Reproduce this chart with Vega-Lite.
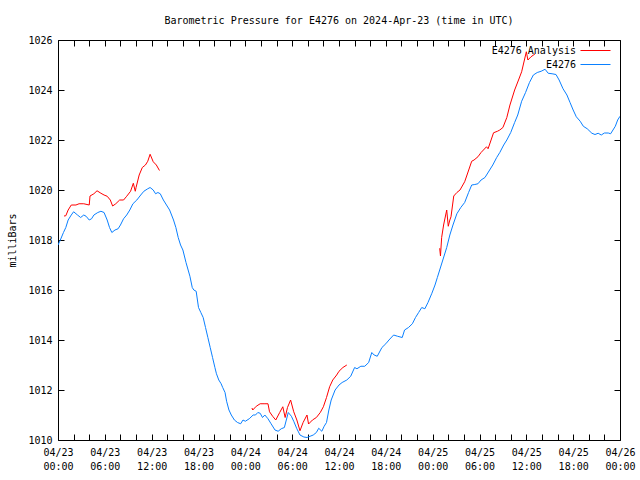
{
  "$schema": "https://vega.github.io/schema/vega-lite/v6.json",
  "width": 562,
  "height": 400,
  "autosize": {"type": "none"},
  "padding": {"left": 58, "top": 40, "right": 20, "bottom": 40},
  "background": "white",
  "title": {
    "text": "Barometric Pressure for E4276 on 2024-Apr-23 (time in UTC)",
    "font": "DejaVu Sans Mono",
    "fontSize": 10,
    "fontWeight": "normal",
    "color": "black",
    "offset": 9,
    "anchor": "middle"
  },
  "config": {
    "view": {"stroke": "black", "strokeWidth": 1},
    "axis": {
      "domain": false,
      "grid": false,
      "tickColor": "black",
      "tickWidth": 1,
      "labelColor": "black",
      "labelFont": "DejaVu Sans Mono",
      "labelFontSize": 10,
      "titleFont": "DejaVu Sans Mono",
      "titleFontSize": 10,
      "titleFontWeight": "normal",
      "titleColor": "black"
    },
    "legend": {
      "orient": "none",
      "legendX": 532,
      "legendY": 5,
      "padding": 0,
      "symbolType": "M-3,0H3",
      "symbolSize": 100,
      "symbolStrokeWidth": 1,
      "labelAlign": "right",
      "labelOffset": -25,
      "labelFont": "DejaVu Sans Mono",
      "labelFontSize": 10,
      "labelColor": "black",
      "labelLimit": 300,
      "rowPadding": 3,
      "title": null
    }
  },
  "data": {
    "values": [
      {"t": 0.77, "p": 1018.96, "s": "E4276 Analysis", "g": "a1"},
      {"t": 1.0, "p": 1018.97, "s": "E4276 Analysis", "g": "a1"},
      {"t": 1.3, "p": 1019.2, "s": "E4276 Analysis", "g": "a1"},
      {"t": 1.7, "p": 1019.4, "s": "E4276 Analysis", "g": "a1"},
      {"t": 2.3, "p": 1019.4, "s": "E4276 Analysis", "g": "a1"},
      {"t": 2.7, "p": 1019.45, "s": "E4276 Analysis", "g": "a1"},
      {"t": 3.3, "p": 1019.45, "s": "E4276 Analysis", "g": "a1"},
      {"t": 4.0, "p": 1019.4, "s": "E4276 Analysis", "g": "a1"},
      {"t": 4.1, "p": 1019.76, "s": "E4276 Analysis", "g": "a1"},
      {"t": 4.6, "p": 1019.85, "s": "E4276 Analysis", "g": "a1"},
      {"t": 5.0, "p": 1019.97, "s": "E4276 Analysis", "g": "a1"},
      {"t": 5.5, "p": 1019.87, "s": "E4276 Analysis", "g": "a1"},
      {"t": 5.9, "p": 1019.8, "s": "E4276 Analysis", "g": "a1"},
      {"t": 6.3, "p": 1019.75, "s": "E4276 Analysis", "g": "a1"},
      {"t": 6.7, "p": 1019.6, "s": "E4276 Analysis", "g": "a1"},
      {"t": 7.0, "p": 1019.36, "s": "E4276 Analysis", "g": "a1"},
      {"t": 7.4, "p": 1019.45, "s": "E4276 Analysis", "g": "a1"},
      {"t": 7.9, "p": 1019.6, "s": "E4276 Analysis", "g": "a1"},
      {"t": 8.4, "p": 1019.6, "s": "E4276 Analysis", "g": "a1"},
      {"t": 8.8, "p": 1019.75, "s": "E4276 Analysis", "g": "a1"},
      {"t": 9.3, "p": 1019.95, "s": "E4276 Analysis", "g": "a1"},
      {"t": 9.65, "p": 1020.27, "s": "E4276 Analysis", "g": "a1"},
      {"t": 9.9, "p": 1019.95, "s": "E4276 Analysis", "g": "a1"},
      {"t": 10.0, "p": 1020.1, "s": "E4276 Analysis", "g": "a1"},
      {"t": 10.4, "p": 1020.6, "s": "E4276 Analysis", "g": "a1"},
      {"t": 10.8, "p": 1020.9, "s": "E4276 Analysis", "g": "a1"},
      {"t": 11.2, "p": 1021.0, "s": "E4276 Analysis", "g": "a1"},
      {"t": 11.5, "p": 1021.15, "s": "E4276 Analysis", "g": "a1"},
      {"t": 11.8, "p": 1021.43, "s": "E4276 Analysis", "g": "a1"},
      {"t": 12.2, "p": 1021.13, "s": "E4276 Analysis", "g": "a1"},
      {"t": 12.6, "p": 1021.0, "s": "E4276 Analysis", "g": "a1"},
      {"t": 13.0, "p": 1020.78, "s": "E4276 Analysis", "g": "a1"},
      {"t": 24.85, "p": 1011.28, "s": "E4276 Analysis", "g": "a2"},
      {"t": 24.95, "p": 1011.2, "s": "E4276 Analysis", "g": "a2"},
      {"t": 25.4, "p": 1011.35, "s": "E4276 Analysis", "g": "a2"},
      {"t": 25.9, "p": 1011.45, "s": "E4276 Analysis", "g": "a2"},
      {"t": 26.4, "p": 1011.45, "s": "E4276 Analysis", "g": "a2"},
      {"t": 26.9, "p": 1011.45, "s": "E4276 Analysis", "g": "a2"},
      {"t": 27.1, "p": 1011.13, "s": "E4276 Analysis", "g": "a2"},
      {"t": 27.5, "p": 1010.95, "s": "E4276 Analysis", "g": "a2"},
      {"t": 27.9, "p": 1010.8, "s": "E4276 Analysis", "g": "a2"},
      {"t": 28.4, "p": 1011.1, "s": "E4276 Analysis", "g": "a2"},
      {"t": 28.8, "p": 1011.33, "s": "E4276 Analysis", "g": "a2"},
      {"t": 29.1, "p": 1010.9, "s": "E4276 Analysis", "g": "a2"},
      {"t": 29.4, "p": 1011.3, "s": "E4276 Analysis", "g": "a2"},
      {"t": 29.8, "p": 1011.6, "s": "E4276 Analysis", "g": "a2"},
      {"t": 30.2, "p": 1011.13, "s": "E4276 Analysis", "g": "a2"},
      {"t": 30.6, "p": 1010.8, "s": "E4276 Analysis", "g": "a2"},
      {"t": 31.0, "p": 1010.37, "s": "E4276 Analysis", "g": "a2"},
      {"t": 31.4, "p": 1010.7, "s": "E4276 Analysis", "g": "a2"},
      {"t": 31.9, "p": 1011.0, "s": "E4276 Analysis", "g": "a2"},
      {"t": 32.1, "p": 1010.64, "s": "E4276 Analysis", "g": "a2"},
      {"t": 32.6, "p": 1010.8, "s": "E4276 Analysis", "g": "a2"},
      {"t": 33.1, "p": 1010.9, "s": "E4276 Analysis", "g": "a2"},
      {"t": 33.6, "p": 1011.1, "s": "E4276 Analysis", "g": "a2"},
      {"t": 34.0, "p": 1011.33, "s": "E4276 Analysis", "g": "a2"},
      {"t": 34.4, "p": 1011.7, "s": "E4276 Analysis", "g": "a2"},
      {"t": 34.8, "p": 1012.13, "s": "E4276 Analysis", "g": "a2"},
      {"t": 35.2, "p": 1012.4, "s": "E4276 Analysis", "g": "a2"},
      {"t": 35.7, "p": 1012.6, "s": "E4276 Analysis", "g": "a2"},
      {"t": 36.0, "p": 1012.75, "s": "E4276 Analysis", "g": "a2"},
      {"t": 36.5, "p": 1012.9, "s": "E4276 Analysis", "g": "a2"},
      {"t": 37.0, "p": 1013.0, "s": "E4276 Analysis", "g": "a2"},
      {"t": 48.9, "p": 1017.67, "s": "E4276 Analysis", "g": "a3"},
      {"t": 49.0, "p": 1017.36, "s": "E4276 Analysis", "g": "a3"},
      {"t": 49.15, "p": 1018.1, "s": "E4276 Analysis", "g": "a3"},
      {"t": 49.4, "p": 1018.6, "s": "E4276 Analysis", "g": "a3"},
      {"t": 49.8, "p": 1019.2, "s": "E4276 Analysis", "g": "a3"},
      {"t": 50.0, "p": 1018.55, "s": "E4276 Analysis", "g": "a3"},
      {"t": 50.2, "p": 1018.8, "s": "E4276 Analysis", "g": "a3"},
      {"t": 50.35, "p": 1018.93, "s": "E4276 Analysis", "g": "a3"},
      {"t": 50.7, "p": 1019.76, "s": "E4276 Analysis", "g": "a3"},
      {"t": 51.1, "p": 1019.9, "s": "E4276 Analysis", "g": "a3"},
      {"t": 51.5, "p": 1020.0, "s": "E4276 Analysis", "g": "a3"},
      {"t": 52.1, "p": 1020.33, "s": "E4276 Analysis", "g": "a3"},
      {"t": 52.4, "p": 1020.6, "s": "E4276 Analysis", "g": "a3"},
      {"t": 53.0, "p": 1021.15, "s": "E4276 Analysis", "g": "a3"},
      {"t": 53.3, "p": 1021.2, "s": "E4276 Analysis", "g": "a3"},
      {"t": 53.8, "p": 1021.33, "s": "E4276 Analysis", "g": "a3"},
      {"t": 54.2, "p": 1021.5, "s": "E4276 Analysis", "g": "a3"},
      {"t": 54.9, "p": 1021.73, "s": "E4276 Analysis", "g": "a3"},
      {"t": 55.1, "p": 1021.65, "s": "E4276 Analysis", "g": "a3"},
      {"t": 55.8, "p": 1022.29, "s": "E4276 Analysis", "g": "a3"},
      {"t": 56.3, "p": 1022.35, "s": "E4276 Analysis", "g": "a3"},
      {"t": 56.6, "p": 1022.4, "s": "E4276 Analysis", "g": "a3"},
      {"t": 57.0, "p": 1022.5, "s": "E4276 Analysis", "g": "a3"},
      {"t": 57.5, "p": 1022.9, "s": "E4276 Analysis", "g": "a3"},
      {"t": 57.9, "p": 1023.4, "s": "E4276 Analysis", "g": "a3"},
      {"t": 58.5, "p": 1024.0, "s": "E4276 Analysis", "g": "a3"},
      {"t": 59.0, "p": 1024.4, "s": "E4276 Analysis", "g": "a3"},
      {"t": 59.4, "p": 1024.73, "s": "E4276 Analysis", "g": "a3"},
      {"t": 60.0, "p": 1025.53, "s": "E4276 Analysis", "g": "a3"},
      {"t": 60.2, "p": 1025.2, "s": "E4276 Analysis", "g": "a3"},
      {"t": 60.6, "p": 1025.33, "s": "E4276 Analysis", "g": "a3"},
      {"t": 61.1, "p": 1025.44, "s": "E4276 Analysis", "g": "a3"},
      {"t": 0.0, "p": 1017.8, "s": "E4276", "g": "b"},
      {"t": 0.3, "p": 1018.0, "s": "E4276", "g": "b"},
      {"t": 0.7, "p": 1018.3, "s": "E4276", "g": "b"},
      {"t": 1.0, "p": 1018.5, "s": "E4276", "g": "b"},
      {"t": 1.3, "p": 1018.8, "s": "E4276", "g": "b"},
      {"t": 1.7, "p": 1019.0, "s": "E4276", "g": "b"},
      {"t": 2.0, "p": 1019.13, "s": "E4276", "g": "b"},
      {"t": 2.5, "p": 1019.0, "s": "E4276", "g": "b"},
      {"t": 2.9, "p": 1018.9, "s": "E4276", "g": "b"},
      {"t": 3.3, "p": 1019.0, "s": "E4276", "g": "b"},
      {"t": 3.6, "p": 1018.95, "s": "E4276", "g": "b"},
      {"t": 4.0, "p": 1018.8, "s": "E4276", "g": "b"},
      {"t": 4.3, "p": 1018.85, "s": "E4276", "g": "b"},
      {"t": 4.6, "p": 1019.0, "s": "E4276", "g": "b"},
      {"t": 5.1, "p": 1019.1, "s": "E4276", "g": "b"},
      {"t": 5.5, "p": 1019.15, "s": "E4276", "g": "b"},
      {"t": 5.9, "p": 1019.1, "s": "E4276", "g": "b"},
      {"t": 6.3, "p": 1018.8, "s": "E4276", "g": "b"},
      {"t": 6.6, "p": 1018.5, "s": "E4276", "g": "b"},
      {"t": 6.9, "p": 1018.3, "s": "E4276", "g": "b"},
      {"t": 7.3, "p": 1018.4, "s": "E4276", "g": "b"},
      {"t": 7.7, "p": 1018.45, "s": "E4276", "g": "b"},
      {"t": 8.0, "p": 1018.6, "s": "E4276", "g": "b"},
      {"t": 8.4, "p": 1018.85, "s": "E4276", "g": "b"},
      {"t": 8.8, "p": 1019.0, "s": "E4276", "g": "b"},
      {"t": 9.2, "p": 1019.2, "s": "E4276", "g": "b"},
      {"t": 9.6, "p": 1019.45, "s": "E4276", "g": "b"},
      {"t": 10.1, "p": 1019.6, "s": "E4276", "g": "b"},
      {"t": 10.6, "p": 1019.8, "s": "E4276", "g": "b"},
      {"t": 11.0, "p": 1019.95, "s": "E4276", "g": "b"},
      {"t": 11.5, "p": 1020.05, "s": "E4276", "g": "b"},
      {"t": 11.8, "p": 1020.1, "s": "E4276", "g": "b"},
      {"t": 12.2, "p": 1020.0, "s": "E4276", "g": "b"},
      {"t": 12.5, "p": 1019.85, "s": "E4276", "g": "b"},
      {"t": 12.8, "p": 1019.9, "s": "E4276", "g": "b"},
      {"t": 13.1, "p": 1019.85, "s": "E4276", "g": "b"},
      {"t": 13.5, "p": 1019.6, "s": "E4276", "g": "b"},
      {"t": 13.9, "p": 1019.4, "s": "E4276", "g": "b"},
      {"t": 14.3, "p": 1019.2, "s": "E4276", "g": "b"},
      {"t": 14.8, "p": 1018.8, "s": "E4276", "g": "b"},
      {"t": 15.1, "p": 1018.5, "s": "E4276", "g": "b"},
      {"t": 15.4, "p": 1018.1, "s": "E4276", "g": "b"},
      {"t": 15.7, "p": 1017.8, "s": "E4276", "g": "b"},
      {"t": 16.0, "p": 1017.6, "s": "E4276", "g": "b"},
      {"t": 16.4, "p": 1017.1, "s": "E4276", "g": "b"},
      {"t": 16.9, "p": 1016.55, "s": "E4276", "g": "b"},
      {"t": 17.2, "p": 1016.1, "s": "E4276", "g": "b"},
      {"t": 17.4, "p": 1016.0, "s": "E4276", "g": "b"},
      {"t": 17.7, "p": 1015.95, "s": "E4276", "g": "b"},
      {"t": 18.0, "p": 1015.3, "s": "E4276", "g": "b"},
      {"t": 18.3, "p": 1015.1, "s": "E4276", "g": "b"},
      {"t": 18.6, "p": 1014.9, "s": "E4276", "g": "b"},
      {"t": 18.9, "p": 1014.5, "s": "E4276", "g": "b"},
      {"t": 19.2, "p": 1014.1, "s": "E4276", "g": "b"},
      {"t": 19.5, "p": 1013.7, "s": "E4276", "g": "b"},
      {"t": 19.8, "p": 1013.3, "s": "E4276", "g": "b"},
      {"t": 20.1, "p": 1012.9, "s": "E4276", "g": "b"},
      {"t": 20.3, "p": 1012.65, "s": "E4276", "g": "b"},
      {"t": 20.6, "p": 1012.4, "s": "E4276", "g": "b"},
      {"t": 20.9, "p": 1012.25, "s": "E4276", "g": "b"},
      {"t": 21.1, "p": 1012.1, "s": "E4276", "g": "b"},
      {"t": 21.4, "p": 1011.9, "s": "E4276", "g": "b"},
      {"t": 21.6, "p": 1011.55, "s": "E4276", "g": "b"},
      {"t": 21.9, "p": 1011.2, "s": "E4276", "g": "b"},
      {"t": 22.2, "p": 1011.0, "s": "E4276", "g": "b"},
      {"t": 22.6, "p": 1010.8, "s": "E4276", "g": "b"},
      {"t": 23.0, "p": 1010.7, "s": "E4276", "g": "b"},
      {"t": 23.4, "p": 1010.65, "s": "E4276", "g": "b"},
      {"t": 23.7, "p": 1010.8, "s": "E4276", "g": "b"},
      {"t": 24.0, "p": 1010.75, "s": "E4276", "g": "b"},
      {"t": 24.5, "p": 1010.85, "s": "E4276", "g": "b"},
      {"t": 25.0, "p": 1011.0, "s": "E4276", "g": "b"},
      {"t": 25.3, "p": 1011.0, "s": "E4276", "g": "b"},
      {"t": 25.6, "p": 1011.1, "s": "E4276", "g": "b"},
      {"t": 25.9, "p": 1011.07, "s": "E4276", "g": "b"},
      {"t": 26.2, "p": 1010.9, "s": "E4276", "g": "b"},
      {"t": 26.5, "p": 1011.0, "s": "E4276", "g": "b"},
      {"t": 26.9, "p": 1010.85, "s": "E4276", "g": "b"},
      {"t": 27.3, "p": 1010.65, "s": "E4276", "g": "b"},
      {"t": 27.8, "p": 1010.4, "s": "E4276", "g": "b"},
      {"t": 28.2, "p": 1010.35, "s": "E4276", "g": "b"},
      {"t": 28.6, "p": 1010.45, "s": "E4276", "g": "b"},
      {"t": 29.0, "p": 1010.5, "s": "E4276", "g": "b"},
      {"t": 29.5, "p": 1011.1, "s": "E4276", "g": "b"},
      {"t": 29.9, "p": 1010.95, "s": "E4276", "g": "b"},
      {"t": 30.2, "p": 1010.75, "s": "E4276", "g": "b"},
      {"t": 30.6, "p": 1010.45, "s": "E4276", "g": "b"},
      {"t": 31.0, "p": 1010.2, "s": "E4276", "g": "b"},
      {"t": 31.5, "p": 1010.12, "s": "E4276", "g": "b"},
      {"t": 31.9, "p": 1010.1, "s": "E4276", "g": "b"},
      {"t": 32.3, "p": 1010.15, "s": "E4276", "g": "b"},
      {"t": 32.7, "p": 1010.2, "s": "E4276", "g": "b"},
      {"t": 33.1, "p": 1010.3, "s": "E4276", "g": "b"},
      {"t": 33.4, "p": 1010.47, "s": "E4276", "g": "b"},
      {"t": 33.8, "p": 1010.35, "s": "E4276", "g": "b"},
      {"t": 34.1, "p": 1010.55, "s": "E4276", "g": "b"},
      {"t": 34.4, "p": 1010.7, "s": "E4276", "g": "b"},
      {"t": 34.7, "p": 1011.2, "s": "E4276", "g": "b"},
      {"t": 35.0, "p": 1011.6, "s": "E4276", "g": "b"},
      {"t": 35.5, "p": 1012.0, "s": "E4276", "g": "b"},
      {"t": 36.0, "p": 1012.2, "s": "E4276", "g": "b"},
      {"t": 36.4, "p": 1012.3, "s": "E4276", "g": "b"},
      {"t": 37.0, "p": 1012.4, "s": "E4276", "g": "b"},
      {"t": 37.5, "p": 1012.55, "s": "E4276", "g": "b"},
      {"t": 38.0, "p": 1012.9, "s": "E4276", "g": "b"},
      {"t": 38.3, "p": 1012.85, "s": "E4276", "g": "b"},
      {"t": 38.8, "p": 1012.95, "s": "E4276", "g": "b"},
      {"t": 39.3, "p": 1012.95, "s": "E4276", "g": "b"},
      {"t": 39.8, "p": 1013.1, "s": "E4276", "g": "b"},
      {"t": 40.2, "p": 1013.5, "s": "E4276", "g": "b"},
      {"t": 40.5, "p": 1013.4, "s": "E4276", "g": "b"},
      {"t": 40.9, "p": 1013.35, "s": "E4276", "g": "b"},
      {"t": 41.5, "p": 1013.7, "s": "E4276", "g": "b"},
      {"t": 42.0, "p": 1013.85, "s": "E4276", "g": "b"},
      {"t": 42.4, "p": 1014.0, "s": "E4276", "g": "b"},
      {"t": 43.0, "p": 1014.2, "s": "E4276", "g": "b"},
      {"t": 43.5, "p": 1014.15, "s": "E4276", "g": "b"},
      {"t": 44.1, "p": 1014.1, "s": "E4276", "g": "b"},
      {"t": 44.4, "p": 1014.4, "s": "E4276", "g": "b"},
      {"t": 44.9, "p": 1014.5, "s": "E4276", "g": "b"},
      {"t": 45.4, "p": 1014.65, "s": "E4276", "g": "b"},
      {"t": 45.8, "p": 1014.9, "s": "E4276", "g": "b"},
      {"t": 46.2, "p": 1015.1, "s": "E4276", "g": "b"},
      {"t": 46.6, "p": 1015.3, "s": "E4276", "g": "b"},
      {"t": 47.0, "p": 1015.25, "s": "E4276", "g": "b"},
      {"t": 47.4, "p": 1015.5, "s": "E4276", "g": "b"},
      {"t": 47.9, "p": 1015.87, "s": "E4276", "g": "b"},
      {"t": 48.3, "p": 1016.2, "s": "E4276", "g": "b"},
      {"t": 48.6, "p": 1016.5, "s": "E4276", "g": "b"},
      {"t": 48.9, "p": 1016.8, "s": "E4276", "g": "b"},
      {"t": 49.3, "p": 1017.2, "s": "E4276", "g": "b"},
      {"t": 49.8, "p": 1017.7, "s": "E4276", "g": "b"},
      {"t": 50.2, "p": 1018.2, "s": "E4276", "g": "b"},
      {"t": 50.6, "p": 1018.6, "s": "E4276", "g": "b"},
      {"t": 51.1, "p": 1019.05, "s": "E4276", "g": "b"},
      {"t": 51.6, "p": 1019.3, "s": "E4276", "g": "b"},
      {"t": 52.1, "p": 1019.5, "s": "E4276", "g": "b"},
      {"t": 52.6, "p": 1019.9, "s": "E4276", "g": "b"},
      {"t": 53.0, "p": 1020.2, "s": "E4276", "g": "b"},
      {"t": 53.4, "p": 1020.22, "s": "E4276", "g": "b"},
      {"t": 53.8, "p": 1020.25, "s": "E4276", "g": "b"},
      {"t": 54.2, "p": 1020.4, "s": "E4276", "g": "b"},
      {"t": 54.7, "p": 1020.5, "s": "E4276", "g": "b"},
      {"t": 55.3, "p": 1020.8, "s": "E4276", "g": "b"},
      {"t": 55.7, "p": 1021.0, "s": "E4276", "g": "b"},
      {"t": 56.2, "p": 1021.3, "s": "E4276", "g": "b"},
      {"t": 56.6, "p": 1021.5, "s": "E4276", "g": "b"},
      {"t": 57.1, "p": 1021.8, "s": "E4276", "g": "b"},
      {"t": 57.5, "p": 1022.0, "s": "E4276", "g": "b"},
      {"t": 58.0, "p": 1022.3, "s": "E4276", "g": "b"},
      {"t": 58.5, "p": 1022.7, "s": "E4276", "g": "b"},
      {"t": 58.9, "p": 1023.0, "s": "E4276", "g": "b"},
      {"t": 59.4, "p": 1023.55, "s": "E4276", "g": "b"},
      {"t": 59.9, "p": 1023.9, "s": "E4276", "g": "b"},
      {"t": 60.4, "p": 1024.3, "s": "E4276", "g": "b"},
      {"t": 60.9, "p": 1024.6, "s": "E4276", "g": "b"},
      {"t": 61.4, "p": 1024.7, "s": "E4276", "g": "b"},
      {"t": 61.9, "p": 1024.75, "s": "E4276", "g": "b"},
      {"t": 62.4, "p": 1024.83, "s": "E4276", "g": "b"},
      {"t": 62.8, "p": 1024.67, "s": "E4276", "g": "b"},
      {"t": 63.3, "p": 1024.65, "s": "E4276", "g": "b"},
      {"t": 63.8, "p": 1024.62, "s": "E4276", "g": "b"},
      {"t": 64.2, "p": 1024.4, "s": "E4276", "g": "b"},
      {"t": 64.7, "p": 1024.05, "s": "E4276", "g": "b"},
      {"t": 65.2, "p": 1023.8, "s": "E4276", "g": "b"},
      {"t": 65.6, "p": 1023.5, "s": "E4276", "g": "b"},
      {"t": 66.0, "p": 1023.2, "s": "E4276", "g": "b"},
      {"t": 66.4, "p": 1022.93, "s": "E4276", "g": "b"},
      {"t": 66.9, "p": 1022.75, "s": "E4276", "g": "b"},
      {"t": 67.3, "p": 1022.55, "s": "E4276", "g": "b"},
      {"t": 67.8, "p": 1022.45, "s": "E4276", "g": "b"},
      {"t": 68.4, "p": 1022.27, "s": "E4276", "g": "b"},
      {"t": 68.8, "p": 1022.22, "s": "E4276", "g": "b"},
      {"t": 69.2, "p": 1022.27, "s": "E4276", "g": "b"},
      {"t": 69.6, "p": 1022.2, "s": "E4276", "g": "b"},
      {"t": 70.0, "p": 1022.28, "s": "E4276", "g": "b"},
      {"t": 70.5, "p": 1022.28, "s": "E4276", "g": "b"},
      {"t": 70.8, "p": 1022.25, "s": "E4276", "g": "b"},
      {"t": 71.1, "p": 1022.4, "s": "E4276", "g": "b"},
      {"t": 71.4, "p": 1022.55, "s": "E4276", "g": "b"},
      {"t": 71.7, "p": 1022.8, "s": "E4276", "g": "b"},
      {"t": 72.0, "p": 1022.95, "s": "E4276", "g": "b"}
    ]
  },
  "layer": [
    {
      "mark": {"type": "line", "strokeWidth": 1, "clip": true},
      "encoding": {
        "x": {
          "field": "t",
          "type": "quantitative",
          "scale": {"domain": [0, 72], "nice": false, "zero": false},
          "axis": {
            "orient": "bottom",
            "title": null,
            "values": [0, 2, 4, 6, 8, 10, 12, 14, 16, 18, 20, 22, 24, 26, 28, 30, 32, 34, 36, 38, 40, 42, 44, 46, 48, 50, 52, 54, 56, 58, 60, 62, 64, 66, 68, 70, 72],
            "tickSize": -6,
            "labelPadding": 13,
            "labelLineHeight": 14,
            "labelOverlap": false,
            "labelFlush": false,
            "labelBaseline": "top",
            "labelExpr": "datum.value % 6 == 0 ? ['04/' + (23 + floor(datum.value / 24)), ((datum.value % 24) < 10 ? '0' : '') + (datum.value % 24) + ':00'] : ''"
          }
        },
        "y": {
          "field": "p",
          "type": "quantitative",
          "scale": {"domain": [1010, 1026], "nice": false, "zero": false},
          "axis": {
            "orient": "left",
            "title": "milliBars",
            "format": "d",
            "values": [1010, 1012, 1014, 1016, 1018, 1020, 1022, 1024, 1026],
            "tickSize": -6,
            "labelPadding": 12,
            "titlePadding": 10,
            "labelFlush": false
          }
        },
        "color": {
          "field": "s",
          "type": "nominal",
          "scale": {"domain": ["E4276 Analysis", "E4276"], "range": ["#ff0000", "#0a80ff"]},
          "legend": {}
        },
        "detail": {"field": "g", "type": "nominal"}
      }
    },
    {
      "mark": {"type": "line", "opacity": 0},
      "encoding": {
        "x": {
          "field": "t",
          "type": "quantitative",
          "axis": {
            "orient": "top",
            "title": null,
            "values": [0, 2, 4, 6, 8, 10, 12, 14, 16, 18, 20, 22, 24, 26, 28, 30, 32, 34, 36, 38, 40, 42, 44, 46, 48, 50, 52, 54, 56, 58, 60, 62, 64, 66, 68, 70, 72],
            "tickSize": -6,
            "labels": false
          }
        },
        "y": {
          "field": "p",
          "type": "quantitative",
          "axis": {
            "orient": "right",
            "title": null,
            "values": [1010, 1012, 1014, 1016, 1018, 1020, 1022, 1024, 1026],
            "tickSize": -6,
            "labels": false
          }
        },
        "detail": {"field": "g", "type": "nominal"}
      }
    }
  ],
  "resolve": {"axis": {"x": "independent", "y": "independent"}}
}
